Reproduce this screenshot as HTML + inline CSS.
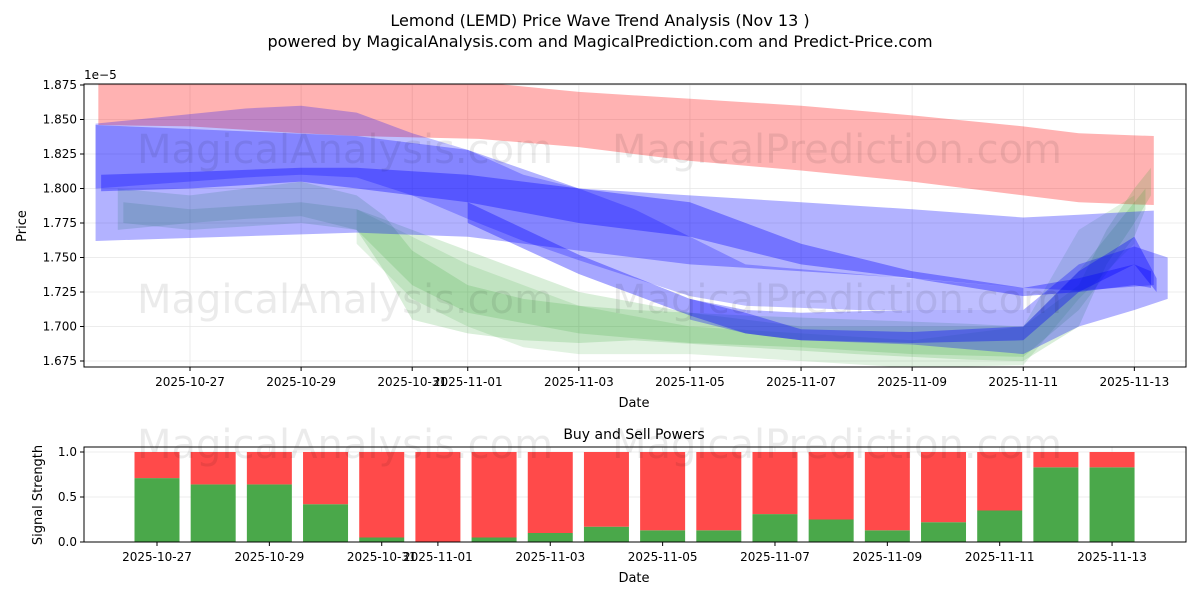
<!DOCTYPE html>
<html><head><meta charset="utf-8">
<style>
body{margin:0;background:#fff;font-family:"Liberation Sans","DejaVu Sans",sans-serif;}
svg text{font-family:"DejaVu Sans","Liberation Sans",sans-serif;fill:#000;}
</style></head>
<body>
<svg id="chart" width="1200" height="600" viewBox="0 0 1200 600" xmlns="http://www.w3.org/2000/svg">
<defs><clipPath id="clipTop"><rect x="84" y="84" width="1102" height="283"/></clipPath></defs>
<text x="600" y="26" font-size="16" text-anchor="middle">Lemond (LEMD) Price Wave Trend Analysis (Nov 13 )</text>
<text x="600" y="47" font-size="16" text-anchor="middle">powered by MagicalAnalysis.com and MagicalPrediction.com and Predict-Price.com</text>
<g id="topPanel"></g>
<g id="botPanel"></g>
</svg>
<script>
// ---- data ----
const xTickLabels=["2025-10-27","2025-10-29","2025-10-31","2025-11-01","2025-11-03","2025-11-05","2025-11-07","2025-11-09","2025-11-11","2025-11-13"];
const xTickDays=[0,2,4,5,7,9,11,13,15,17];
const yTicks=[1.675,1.700,1.725,1.750,1.775,1.800,1.825,1.850,1.875];
const redDays=[-1.65,0,2,3,5.2,7,9,11,13,15,16,17.35];
const redUpper=[1.878,1.878,1.878,1.878,1.877,1.87,1.865,1.86,1.853,1.845,1.84,1.838];
const redLower=[1.846,1.845,1.84,1.838,1.836,1.83,1.82,1.813,1.805,1.795,1.79,1.788];
const blueWideDays=[-1.7,3,5,7,9,11,13,15,16,17.35];
const blueWideUpper=[1.846,1.838,1.828,1.80,1.795,1.79,1.785,1.779,1.781,1.784];
const blueWideLower=[1.762,1.768,1.765,1.755,1.745,1.74,1.735,1.728,1.726,1.73];
const blueHighDays=[-1.7,1,2,3,4,5,6,7,8,9,10,12,15];
const blueHighUpper=[1.847,1.858,1.86,1.855,1.84,1.828,1.81,1.80,1.785,1.765,1.745,1.738,1.728];
const blueHighLower=[1.80,1.808,1.81,1.808,1.795,1.778,1.762,1.748,1.735,1.722,1.715,1.712,1.712];
const blueMidDays=[-1.6,0,2,3,5,7,9,11,13,15,16,17,17.3];
const blueMidUpper=[1.81,1.812,1.815,1.815,1.81,1.80,1.79,1.76,1.74,1.728,1.735,1.745,1.74];
const blueMidLower=[1.798,1.80,1.805,1.80,1.79,1.775,1.765,1.745,1.735,1.722,1.725,1.73,1.728];
const blueLowDays=[9,10,11,13,15,16,17,17.6];
const blueLowUpper=[1.72,1.712,1.71,1.712,1.712,1.745,1.758,1.75];
const blueLowLower=[1.705,1.695,1.69,1.687,1.68,1.70,1.712,1.72];
const blueDarkDays=[5,7,9,10,11,13,15,16,17,17.4];
const blueDarkUpper=[1.79,1.752,1.72,1.71,1.698,1.696,1.700,1.74,1.765,1.735];
const blueDarkLower=[1.775,1.738,1.708,1.695,1.69,1.688,1.69,1.725,1.745,1.725];
const green1Days=[-1.3,0,1,2,3,3.5,4,5,6,7,8,10,12,14,15,16,16.5,17,17.3];
const green1Upper=[1.80,1.795,1.80,1.805,1.795,1.78,1.755,1.73,1.72,1.715,1.712,1.708,1.705,1.702,1.70,1.73,1.77,1.80,1.815];
const green1Lower=[1.77,1.775,1.778,1.78,1.77,1.74,1.705,1.695,1.69,1.688,1.69,1.685,1.68,1.676,1.675,1.70,1.745,1.775,1.795];
const green2Days=[-1.2,0,2,3,4,5,7,9,11,13,15,16,17,17.2];
const green2Upper=[1.79,1.785,1.79,1.785,1.77,1.755,1.725,1.71,1.70,1.70,1.70,1.74,1.79,1.80];
const green2Lower=[1.775,1.77,1.775,1.77,1.73,1.71,1.695,1.688,1.685,1.68,1.678,1.712,1.765,1.785];
const green3Days=[3,4,5,6,7,9,11,13,15,16,17];
const green3Upper=[1.785,1.765,1.745,1.73,1.715,1.70,1.695,1.69,1.70,1.77,1.795];
const green3Lower=[1.76,1.72,1.70,1.685,1.68,1.68,1.675,1.67,1.672,1.72,1.76];
const barDays=[0,1,2,3,4,5,6,7,8,9,10,11,12,13,14,15,16,17];
const buyPower=[0.71,0.64,0.64,0.42,0.05,0.0,0.05,0.10,0.17,0.13,0.13,0.31,0.25,0.13,0.22,0.35,0.83,0.83];
const sigTicks=[0,0.5,1.0];

const NS="http://www.w3.org/2000/svg";
function mk(parent,tag,attrs,text){const e=document.createElementNS(NS,tag);for(const k in attrs)e.setAttribute(k,attrs[k]);if(text!==undefined)e.textContent=text;parent.appendChild(e);return e;}
const L=84,R=1186,T=84,B=367;
const xS=d=>190+d*55.55;
const yS=v=>361-(v-1.675)/0.025*34.5;
const topG=document.getElementById('topPanel');
const gridG=mk(topG,'g',{});
yTicks.forEach(v=>{const y=yS(v);
 const l=mk(gridG,'line',{x1:L,x2:R,y1:y,y2:y,stroke:'#e6e6e6','stroke-width':0.8});
 
 
 mk(gridG,'line',{x1:L-4,x2:L,y1:y,y2:y,stroke:'#000'});
 const t=mk(gridG,'text',{x:L-7,y:y+4,'font-size':12,'text-anchor':'end'},v.toFixed(3));
 
 
});
xTickDays.forEach((d,i)=>{const x=xS(d);
 mk(gridG,'line',{x1:x,x2:x,y1:T,y2:B,stroke:'#e6e6e6','stroke-width':0.8});
 mk(gridG,'line',{x1:x,x2:x,y1:B,y2:B+4,stroke:'#000'});
 const t=mk(gridG,'text',{x:x,y:B+19,'font-size':12,'text-anchor':'middle'},xTickLabels[i]);
 
 
});
const bandG=mk(topG,'g',{'clip-path':'url(#clipTop)'});
function band(days,up,lo,color,op,name){
 let pts=days.map((d,i)=>xS(d)+','+yS(up[i]));
 for(let i=days.length-1;i>=0;i--)pts.push(xS(days[i])+','+yS(lo[i]));
 const p=mk(bandG,'polygon',{points:pts.join(' '),fill:color,'fill-opacity':op});
 
 
}
band(redDays,redUpper,redLower,'#ff0000',0.3,'red-band');
band(green1Days,green1Upper,green1Lower,'#2ca02c',0.18,'green-band-1');
band(green2Days,green2Upper,green2Lower,'#2ca02c',0.18,'green-band-2');
band(green3Days,green3Upper,green3Lower,'#2ca02c',0.14,'green-band-3');
band(blueWideDays,blueWideUpper,blueWideLower,'#0000ff',0.3,'blue-band-wide');
band(blueHighDays,blueHighUpper,blueHighLower,'#0000ff',0.25,'blue-band-high');
band(blueMidDays,blueMidUpper,blueMidLower,'#0000ff',0.35,'blue-band-mid');
band(blueLowDays,blueLowUpper,blueLowLower,'#0000ff',0.3,'blue-band-low');
band(blueDarkDays,blueDarkUpper,blueDarkLower,'#0000ff',0.35,'blue-band-dark');
const wm1=mk(topG,'text',{x:345,y:163,'font-size':40,'fill-opacity':0.08,'text-anchor':'middle'},'MagicalAnalysis.com');


mk(topG,'text',{x:837,y:163,'font-size':40,'fill-opacity':0.08,'text-anchor':'middle'},'MagicalPrediction.com');
mk(topG,'text',{x:345,y:313,'font-size':40,'fill-opacity':0.08,'text-anchor':'middle'},'MagicalAnalysis.com');
mk(topG,'text',{x:837,y:313,'font-size':40,'fill-opacity':0.08,'text-anchor':'middle'},'MagicalPrediction.com');
mk(topG,'rect',{x:L,y:T,width:R-L,height:B-T,fill:'none',stroke:'#000','stroke-width':1});
mk(topG,'text',{x:84,y:79,'font-size':12},'1e−5');
const yt=mk(topG,'text',{x:26,y:226,'font-size':13,'text-anchor':'middle',transform:'rotate(-90 26 226)'},'Price');


const xt=mk(topG,'text',{x:634,y:407,'font-size':13,'text-anchor':'middle'},'Date');



const botG=document.getElementById('botPanel');
const bL=84,bR=1186,bT=447,bB=542;
const bx=d=>157+d*56.18;
const by=v=>542-v*90;
mk(botG,'text',{x:634,y:439,'font-size':14,'text-anchor':'middle'},'Buy and Sell Powers');
sigTicks.forEach(v=>{const y=by(v);
 mk(botG,'line',{x1:bL,x2:bR,y1:y,y2:y,stroke:'#e6e6e6','stroke-width':0.8});
 mk(botG,'line',{x1:bL-4,x2:bL,y1:y,y2:y,stroke:'#000'});
 mk(botG,'text',{x:bL-7,y:y+4,'font-size':12,'text-anchor':'end'},v.toFixed(1));
});
xTickDays.forEach((d,i)=>{const x=bx(d);
 mk(botG,'line',{x1:x,x2:x,y1:bT,y2:bB,stroke:'#e6e6e6','stroke-width':0.8});
 mk(botG,'line',{x1:x,x2:x,y1:bB,y2:bB+4,stroke:'#000'});
 mk(botG,'text',{x:x,y:bB+19,'font-size':12,'text-anchor':'middle'},xTickLabels[i]);
});
barDays.forEach((d,i)=>{const x=bx(d)-22.5;
 const g=mk(botG,'rect',{x:x,y:by(buyPower[i]),width:45,height:by(0)-by(buyPower[i]),fill:'#4aa84a'});
 
 
 const r=mk(botG,'rect',{x:x,y:by(1),width:45,height:by(buyPower[i])-by(1),fill:'#ff4a4a'});
 
 
});
mk(botG,'text',{x:345,y:458,'font-size':40,'fill-opacity':0.08,'text-anchor':'middle'},'MagicalAnalysis.com');
mk(botG,'text',{x:837,y:458,'font-size':40,'fill-opacity':0.08,'text-anchor':'middle'},'MagicalPrediction.com');
mk(botG,'rect',{x:bL,y:bT,width:bR-bL,height:bB-bT,fill:'none',stroke:'#000','stroke-width':1});
mk(botG,'text',{x:42,y:495,'font-size':13,'text-anchor':'middle',transform:'rotate(-90 42 495)'},'Signal Strength');
mk(botG,'text',{x:634,y:582,'font-size':13,'text-anchor':'middle'},'Date');
</script>
</body></html>
